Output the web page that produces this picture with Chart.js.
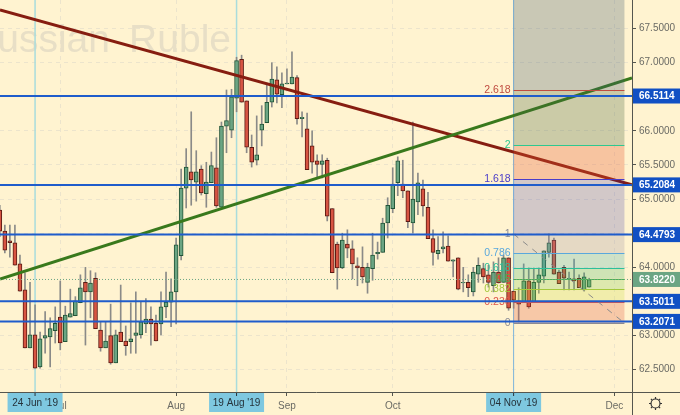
<!DOCTYPE html>
<html>
<head>
<meta charset="utf-8">
<style>
  html, body { margin: 0; padding: 0; background: #fff3d0; overflow: hidden; }
  canvas { display: block; }
</style>
<script src="https://cdn.jsdelivr.net/npm/chart.js@4"></script>
</head>
<body>
<canvas id="myChart" width="680" height="415"></canvas>
<script>
var days = [
  '13 Jun','14 Jun','17 Jun','18 Jun','19 Jun','20 Jun','21 Jun','24 Jun','25 Jun','26 Jun','27 Jun','28 Jun',
  '01 Jul','02 Jul','03 Jul','04 Jul','05 Jul','08 Jul','09 Jul','10 Jul','11 Jul','12 Jul','15 Jul','16 Jul','17 Jul','18 Jul','19 Jul',
  '22 Jul','23 Jul','24 Jul','25 Jul','26 Jul','29 Jul','30 Jul','31 Jul',
  '01 Aug','02 Aug','05 Aug','06 Aug','07 Aug','08 Aug','09 Aug','12 Aug','13 Aug','14 Aug','15 Aug','16 Aug',
  '19 Aug','20 Aug','21 Aug','22 Aug','23 Aug','26 Aug','27 Aug','28 Aug','29 Aug','30 Aug',
  '02 Sep','03 Sep','04 Sep','05 Sep','06 Sep','09 Sep','10 Sep','11 Sep','12 Sep','13 Sep','16 Sep','17 Sep','18 Sep','19 Sep','20 Sep',
  '23 Sep','24 Sep','25 Sep','26 Sep','27 Sep','30 Sep',
  '01 Oct','02 Oct','03 Oct','04 Oct','07 Oct','08 Oct','09 Oct','10 Oct','11 Oct','14 Oct','15 Oct','16 Oct','17 Oct','18 Oct',
  '21 Oct','22 Oct','23 Oct','24 Oct','25 Oct','28 Oct','29 Oct','30 Oct','31 Oct','01 Nov',
  '04 Nov','05 Nov','06 Nov','07 Nov','08 Nov','11 Nov','12 Nov','13 Nov','14 Nov','15 Nov','18 Nov','19 Nov','20 Nov','21 Nov','22 Nov',
  '25 Nov','26 Nov','27 Nov','28 Nov','29 Nov','02 Dec','03 Dec','04 Dec'
];

var opens = [
  64.84,64.53,64.39,64.36,64.05,63.67,62.82,63.01,62.54,62.96,62.98,63.07,63.27,62.91,63.27,63.29,63.48,63.78,63.64,63.84,
  63.08,62.82,63.00,62.60,63.05,62.92,62.91,63.00,63.01,63.17,63.24,63.18,63.17,63.42,63.49,63.64,64.17,65.16,65.40,65.25,
  65.44,65.08,65.24,65.46,64.88,66.07,66.01,66.48,67.05,66.44,65.76,65.57,66.01,66.12,66.42,66.75,66.53,66.69,66.69,66.78,
  66.18,66.03,65.78,65.56,65.51,65.57,64.86,64.34,63.99,64.34,64.27,64.02,64.00,63.78,63.98,64.20,64.22,64.65,64.86,65.24,
  65.22,65.12,64.65,64.96,65.15,64.88,64.42,64.20,64.27,64.31,64.09,64.14,63.77,63.78,63.64,63.90,63.98,63.89,63.73,63.93,
  63.78,64.14,63.65,63.51,63.49,63.80,63.49,63.78,63.87,64.22,64.40,63.93,64.00,63.83,63.83,63.84,63.67,63.71
];
var highs = [
  64.91,64.62,64.62,64.62,64.18,63.92,63.78,63.45,63.05,63.35,63.26,63.42,63.80,63.43,63.68,63.57,63.89,64.00,63.95,63.92,
  63.20,63.20,63.46,63.08,63.74,63.14,63.48,63.64,63.49,63.54,63.42,63.30,63.64,63.93,63.83,64.43,65.44,65.74,66.28,65.71,
  65.49,65.54,65.69,65.90,66.13,66.60,66.61,67.08,67.11,66.44,65.94,66.22,66.37,66.70,67.00,66.94,66.85,66.91,67.16,66.81,
  66.28,66.26,66.00,65.65,65.65,65.60,64.86,64.37,64.50,64.55,64.39,64.14,64.30,64.06,64.50,64.37,64.72,65.02,65.46,65.62,
  65.57,65.12,66.13,65.38,65.28,65.10,64.55,64.45,64.52,64.46,64.11,64.14,64.00,63.89,64.00,64.14,64.06,64.03,64.08,64.14,
  64.18,64.14,63.65,63.70,64.05,63.99,63.99,63.99,64.24,64.49,64.43,63.96,64.03,63.93,64.12,63.89,63.92,63.84
];
var lows = [
  64.45,64.21,64.15,64.03,63.65,62.82,62.82,62.52,62.52,62.74,62.54,62.89,62.79,62.91,63.27,63.29,63.48,62.86,63.26,63.10,
  62.77,62.82,62.58,62.60,62.91,62.71,62.74,62.74,62.96,63.04,62.86,62.92,63.01,63.26,63.13,63.17,64.11,64.87,64.91,64.97,
  65.06,64.88,65.24,64.88,64.88,65.68,65.90,66.28,66.42,65.68,65.47,65.50,65.78,66.12,66.35,66.41,66.34,66.69,66.69,66.10,
  65.91,65.43,65.38,65.31,65.31,64.68,63.92,63.68,63.98,64.14,63.83,63.73,63.77,63.62,63.81,64.12,64.22,64.43,64.80,65.05,
  65.02,64.58,64.50,64.77,64.75,64.42,64.03,64.12,64.21,64.09,63.86,63.67,63.64,63.57,63.58,63.78,63.77,63.71,63.64,63.77,
  63.78,63.37,63.40,63.20,63.49,63.40,63.49,63.62,63.77,64.15,63.90,63.76,63.67,63.67,63.67,63.70,63.65,63.71
];
var closes = [
  64.53,64.25,64.36,64.03,63.65,62.82,63.01,62.52,62.95,63.00,63.10,63.18,62.89,63.30,63.32,63.51,63.70,63.64,63.77,63.10,
  62.82,62.92,62.60,63.01,62.91,62.85,62.95,63.04,63.20,63.24,63.17,62.92,63.42,63.49,63.64,64.33,65.16,65.47,65.28,65.40,
  65.09,65.25,65.49,64.90,66.07,66.15,66.50,67.03,66.42,65.76,65.54,65.65,66.10,66.42,66.76,66.54,66.69,66.70,66.79,66.18,
  66.20,65.43,65.54,65.51,65.56,64.75,63.92,63.99,64.40,64.28,64.05,63.99,63.86,64.00,64.18,64.22,64.65,64.91,65.22,65.56,
  65.12,64.67,65.00,65.24,64.90,64.42,64.22,64.25,64.30,64.09,64.11,63.68,63.78,63.70,63.93,64.03,63.86,63.78,63.93,63.77,
  64.14,63.40,63.52,63.46,63.80,63.42,63.78,63.89,64.24,64.36,63.90,63.76,63.84,63.84,63.80,63.70,63.86,63.82
];

var xMin = 0.04;
var xMax = 125.5;
var yMin = 62.172;
var yMax = 67.919;
var priceTicks = [62.5, 63, 63.5, 64, 64.5, 65, 65.5, 66, 66.5, 67, 67.5];

var monthTicks = [12, 35, 57, 78, 102, 122];
var monthNames = ['Jul', 'Aug', 'Sep', 'Oct', 'Nov', 'Dec'];
var cursorDays = ['24 Jun', '19 Aug', '04 Nov'];
var cursorLabels = ["24 Jun '19", "19 Aug '19", "04 Nov '19"];

var levels = [66.5114, 65.2084, 64.4793, 63.5011, 63.2071];
var lastPrice = 63.822;
var resistanceLine = [67.773, 65.208];
var supportLine = [63.828, 66.776];

var fibNames = ['0', '0.236', '0.382', '0.5', '0.618', '0.786', '1', '1.618', '2', '2.618', ''];
var fibPrices = [63.183, 63.491, 63.682, 63.835, 63.989, 64.209, 64.488, 65.295, 65.793, 66.600, 67.919];
var fibLines = ['#8a8a94', '#e0564a', '#a5c83c', '#4cb050', '#2cc09a', '#5aa8dc', '#8a8a94', '#4a3cc8', '#2ec890', '#c04c40', ''];
var fibFills = [
  'rgba(225,90,60,.28)', 'rgba(200,220,60,.25)', 'rgba(120,200,70,.25)', 'rgba(60,180,100,.25)', 'rgba(60,170,170,.25)',
  'rgba(150,140,160,.25)', 'rgba(30,30,170,.2)', 'rgba(230,90,50,.3)', 'rgba(70,100,60,.28)', 'rgba(60,90,110,.28)'
];
var fibStart = 102;
var fibEnd = 124;

var FONT = '"Liberation Sans", Arial, sans-serif';
var UP = '#6ba583', DOWN = '#d75442', UP_BORDER = '#225437', DOWN_BORDER = '#5b1a13';
var LEVEL_BLUE = '#1f5ccb';

function isUp(i) { return closes[i] >= opens[i]; }

var wicks = opens.map((o, i) => ({ x: i, y: [lows[i], highs[i]] }));
var bodies = opens.map((o, i) => ({ x: i, y: [o, closes[i]] }));

function flat(v) { return [{ x: xMin, y: v }, { x: xMax, y: v }]; }
function lineSet(label, points, color, width, order, dash) {
  return {
    type: 'line', label: label, data: points, borderColor: color, borderWidth: width,
    borderDash: dash || [], pointRadius: 0, tension: 0, order: order
  };
}

var datasets = [
  { label: 'wicks', data: wicks, backgroundColor: '#8a8a88', borderWidth: 0, barThickness: 1, grouped: false, order: 7 },
  {
    label: 'bodies', data: bodies, grouped: false, order: 6, barThickness: 4, borderWidth: 1, borderSkipped: false,
    backgroundColor: opens.map((o, i) => isUp(i) ? UP : DOWN),
    borderColor: opens.map((o, i) => isUp(i) ? UP_BORDER : DOWN_BORDER)
  },
  lineSet('resistance', [{ x: xMin, y: resistanceLine[0] }, { x: xMax, y: resistanceLine[1] }], '#861d10', 3, 5),
  lineSet('support', [{ x: xMin, y: supportLine[0] }, { x: xMax, y: supportLine[1] }], '#39791c', 3, 4),
  lineSet('last', flat(lastPrice), '#6ba583', 1, 3, [1, 2])
];
levels.forEach(v => datasets.push(lineSet('level', flat(v), LEVEL_BLUE, 2, 2)));

var overlays = {
  id: 'overlays',
  beforeDatasetsDraw(chart) {
    let x = chart.scales.x, c = chart.ctx, a = chart.chartArea;
    c.save();
    c.font = '39px ' + FONT;
    c.fillStyle = '#e8dfc6';
    c.textAlign = 'right';
    c.textBaseline = 'alphabetic';
    c.fillText('Russian', 110, 52);
    c.fillText('Ruble', 231, 52);
    cursorDays.forEach((d, n) => {
      c.strokeStyle = n == 2 ? '#7db4da' : '#a9dcdc';
      c.lineWidth = n == 2 ? 1 : 1.5;
      let px = x.getPixelForValue(days.indexOf(d));
      c.beginPath(); c.moveTo(px, a.top); c.lineTo(px, a.bottom); c.stroke();
    });
    c.restore();
  },
  afterDatasetDraw(chart, args) {
    if (chart.data.datasets[args.index].label != 'support') return;
    let x = chart.scales.x, y = chart.scales.y, c = chart.ctx;
    let left = x.getPixelForValue(fibStart), right = x.getPixelForValue(fibEnd);
    c.save();
    fibFills.forEach((fill, n) => {
      let top = y.getPixelForValue(fibPrices[n + 1]), bottom = y.getPixelForValue(fibPrices[n]);
      c.fillStyle = fill;
      c.fillRect(left, top, right - left, bottom - top);
    });
    c.font = '10.5px ' + FONT;
    c.textAlign = 'right';
    c.textBaseline = 'middle';
    fibNames.forEach((name, n) => {
      if (!name) return;
      let py = Math.round(y.getPixelForValue(fibPrices[n])) + 0.5;
      c.strokeStyle = fibLines[n];
      c.lineWidth = 1;
      c.beginPath(); c.moveTo(left, py); c.lineTo(right, py); c.stroke();
      c.fillStyle = fibLines[n];
      c.fillText(name, left - 3, py);
    });
    c.strokeStyle = '#8a8a8a';
    c.setLineDash([6, 6]);
    c.beginPath();
    c.moveTo(left, y.getPixelForValue(fibPrices[6]));
    c.lineTo(right, y.getPixelForValue(fibPrices[0]));
    c.stroke();
    c.restore();
  },
  afterDraw(chart) {
    let x = chart.scales.x, y = chart.scales.y, c = chart.ctx, a = chart.chartArea;
    c.save();
    c.strokeStyle = '#55564f';
    c.lineWidth = 1;
    c.beginPath();
    c.moveTo(a.right + 0.5, a.bottom); c.lineTo(a.right + 0.5, 415);
    c.moveTo(a.right, a.bottom + 0.5); c.lineTo(680, a.bottom + 0.5);
    c.stroke();

    // value boxes on the price axis
    c.font = 'bold 10px ' + FONT;
    c.textAlign = 'left';
    c.textBaseline = 'middle';
    levels.concat([lastPrice]).forEach(v => {
      let py = y.getPixelForValue(v);
      c.fillStyle = v == lastPrice ? UP : '#1150c4';
      c.fillRect(a.right + 1, py - 7.5, 680 - a.right, 15);
      c.fillStyle = '#ffffff';
      c.fillText(v.toFixed(4), 639, py + 0.5);
    });

    // date boxes on the time axis
    c.font = '10px ' + FONT;
    c.textAlign = 'center';
    cursorDays.forEach((d, n) => {
      let px = x.getPixelForValue(days.indexOf(d));
      c.fillStyle = '#7ec8e0';
      c.fillRect(px - 27.5, a.bottom + 1, 55, 19);
      c.fillStyle = '#25323a';
      c.fillText(cursorLabels[n], px, a.bottom + 11);
      c.strokeStyle = '#25323a';
      c.beginPath(); c.moveTo(px, a.bottom + 1); c.lineTo(px, a.bottom + 4); c.stroke();
    });

    // settings gear
    let gx = 655.5, gy = 403.5;
    c.strokeStyle = '#333333';
    c.lineWidth = 1.2;
    c.beginPath(); c.arc(gx, gy, 4.5, 0, Math.PI * 2); c.stroke();
    for (let k = 0; k < 8; k++) {
      let t = k * Math.PI / 4;
      c.beginPath();
      c.moveTo(gx + Math.cos(t) * 4.5, gy + Math.sin(t) * 4.5);
      c.lineTo(gx + Math.cos(t) * 6.5, gy + Math.sin(t) * 6.5);
      c.stroke();
    }
    c.restore();
  }
};

function noPadding(axis) {
  axis.paddingTop = 0;
  axis.paddingBottom = 0;
  axis.paddingLeft = 0;
  axis.paddingRight = 0;
}

var config = {
  type: 'bar',
  data: { datasets: datasets },
  options: {
    responsive: false,
    animation: false,
    events: [],
    layout: { padding: 0 },
    plugins: { legend: { display: false }, tooltip: { enabled: false } },
    scales: {
      x: {
        type: 'linear',
        min: xMin,
        max: xMax,
        offset: false,
        afterBuildTicks: axis => { axis.ticks = monthTicks.map(v => ({ value: v })); },
        afterFit: axis => { axis.height = 23; noPadding(axis); },
        grid: { offset: false, color: '#ece4cc', tickColor: '#55564f', tickLength: 4, drawTicks: true },
        border: { color: '#55564f', dash: [4, 4] },
        ticks: {
          autoSkip: false, maxRotation: 0, padding: 4, color: '#6a6a64',
          font: { family: FONT, size: 10 },
          callback: v => monthNames[monthTicks.indexOf(v)]
        }
      },
      y: {
        position: 'right',
        min: yMin,
        max: yMax,
        afterBuildTicks: axis => { axis.ticks = priceTicks.map(v => ({ value: v })); },
        afterFit: axis => { axis.width = 48; noPadding(axis); },
        grid: { color: '#ece4cc', tickColor: '#55564f', tickLength: 4 },
        border: { color: '#55564f', dash: [4, 4] },
        ticks: {
          padding: 3, color: '#6a6a64',
          font: { family: FONT, size: 10 },
          callback: v => v.toFixed(4)
        }
      }
    }
  },
  plugins: [overlays]
};

var myChart = new Chart(document.getElementById('myChart'), config);
</script>
</body>
</html>
